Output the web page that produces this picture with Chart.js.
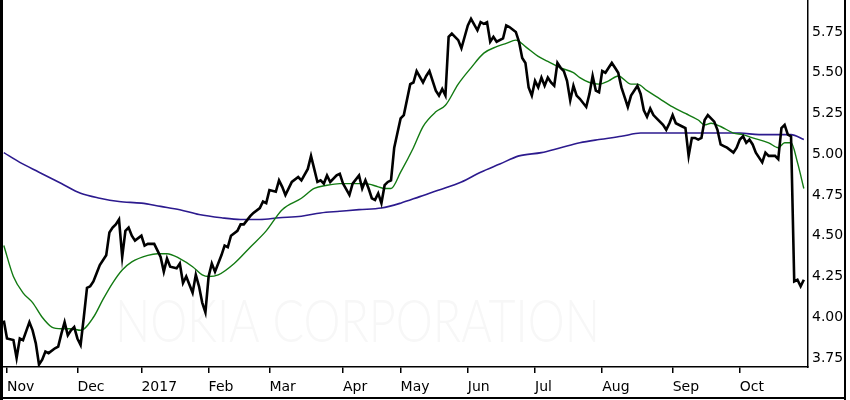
<!DOCTYPE html>
<html>
<head>
<meta charset="utf-8">
<script src="https://cdn.jsdelivr.net/npm/chart.js@4.4.1/dist/chart.umd.min.js"></script>
<style>
  html, body { margin: 0; padding: 0; background: #fff; }
  #wrap { width: 850px; height: 400px; }
</style>
</head>
<body>
<div id="wrap"><canvas id="myChart" width="850" height="400"></canvas></div>
<script>
//-----------------------------------
// Data (x = trading day, 0 = 1 Nov 2016)
//-----------------------------------
var priceDays = [-1, 0, 2, 3, 4, 5, 7, 8, 9, 10, 11, 12, 13, 15, 16, 17, 18, 19, 20, 21, 22, 23, 24, 25, 26, 27, 28, 29, 31, 32, 33, 34, 35, 36, 37, 38, 39, 40, 42, 43, 44, 46, 47, 48, 49, 50, 51, 53, 54, 55, 56, 58, 59, 60, 61, 62, 63, 64, 65, 67, 68, 69, 70, 72, 73, 74, 76, 77, 79, 80, 81, 82, 84, 85, 86, 87, 89, 91, 92, 94, 95, 96, 97, 98, 99, 100, 101, 103, 104, 105, 107, 108, 110, 111, 112, 113, 114, 115, 116, 117, 118, 119, 120, 121, 122, 123, 124, 126, 127, 128, 130, 131, 132, 134, 135, 136, 137, 138, 139, 141, 142, 144, 145, 147, 148, 149, 150, 151, 152, 153, 155, 156, 157, 159, 160, 161, 162, 163, 164, 165, 166, 167, 168, 169, 170, 171, 172, 173, 174, 175, 176, 177, 178, 179, 181, 182, 183, 184, 185, 186, 187, 188, 189, 190, 191, 192, 193, 194, 195, 197, 198, 199, 200, 201, 202, 203, 205, 206, 207, 208, 209, 211, 212, 213, 214, 215, 216, 217, 218, 219, 221, 222, 223, 224, 225, 227, 228, 229, 230, 231, 232, 233, 234, 236, 237, 238, 239, 240, 241, 242, 243, 244, 245, 246, 247, 248, 249];
var priceValues = [3.98, 3.87, 3.86, 3.75, 3.87, 3.86, 3.97, 3.92, 3.84, 3.71, 3.74, 3.79, 3.78, 3.81, 3.82, 3.90, 3.97, 3.89, 3.92, 3.94, 3.87, 3.83, 4.00, 4.18, 4.19, 4.22, 4.27, 4.32, 4.38, 4.52, 4.55, 4.57, 4.60, 4.37, 4.53, 4.55, 4.50, 4.47, 4.50, 4.44, 4.45, 4.45, 4.41, 4.37, 4.28, 4.36, 4.31, 4.30, 4.33, 4.21, 4.25, 4.15, 4.26, 4.19, 4.09, 4.03, 4.25, 4.33, 4.28, 4.38, 4.44, 4.43, 4.50, 4.53, 4.57, 4.57, 4.62, 4.64, 4.67, 4.71, 4.70, 4.78, 4.77, 4.84, 4.80, 4.75, 4.83, 4.86, 4.84, 4.91, 4.99, 4.91, 4.83, 4.84, 4.82, 4.87, 4.83, 4.87, 4.88, 4.82, 4.75, 4.82, 4.87, 4.79, 4.84, 4.79, 4.73, 4.72, 4.76, 4.70, 4.81, 4.83, 4.84, 5.04, 5.13, 5.22, 5.24, 5.43, 5.44, 5.51, 5.44, 5.48, 5.51, 5.39, 5.36, 5.40, 5.36, 5.72, 5.74, 5.70, 5.65, 5.79, 5.83, 5.76, 5.81, 5.80, 5.81, 5.69, 5.72, 5.69, 5.71, 5.79, 5.78, 5.75, 5.69, 5.59, 5.56, 5.41, 5.36, 5.45, 5.41, 5.47, 5.42, 5.47, 5.44, 5.42, 5.56, 5.53, 5.51, 5.45, 5.33, 5.42, 5.36, 5.34, 5.29, 5.37, 5.48, 5.39, 5.38, 5.51, 5.50, 5.53, 5.56, 5.53, 5.50, 5.41, 5.35, 5.29, 5.36, 5.42, 5.37, 5.27, 5.23, 5.28, 5.24, 5.22, 5.18, 5.15, 5.19, 5.24, 5.19, 5.17, 5.16, 4.99, 5.10, 5.10, 5.09, 5.10, 5.21, 5.24, 5.20, 5.15, 5.06, 5.05, 5.04, 5.01, 5.04, 5.09, 5.11, 5.07, 5.09, 5.06, 5.01, 4.95, 5.01, 4.99, 4.99, 4.99, 4.97, 5.16, 5.18, 5.12, 5.11, 4.22, 4.23, 4.19, 4.23];

var ma20Days = [-1, 2, 5, 8, 11, 14, 17, 20, 23, 27, 30, 33, 36, 39, 44, 47, 50, 54, 58, 61, 63, 66, 71, 76, 81, 86, 92, 96, 100, 104, 108, 112, 116, 118, 120, 123, 127, 130, 134, 137, 141, 145, 149, 153, 156, 159, 162, 166, 169, 173, 177, 179, 182, 185, 188, 191, 195, 197, 200, 204, 208, 212, 216, 218, 220, 223, 227, 230, 233, 238, 241, 243, 245, 247, 249];
var ma20Values = [4.44, 4.25, 4.15, 4.09, 4.00, 3.94, 3.93, 3.93, 3.92, 4.00, 4.11, 4.21, 4.29, 4.34, 4.38, 4.39, 4.39, 4.36, 4.31, 4.26, 4.25, 4.26, 4.33, 4.43, 4.53, 4.66, 4.73, 4.79, 4.81, 4.82, 4.82, 4.82, 4.80, 4.79, 4.79, 4.89, 5.04, 5.17, 5.26, 5.30, 5.43, 5.53, 5.62, 5.66, 5.68, 5.70, 5.66, 5.60, 5.57, 5.53, 5.50, 5.47, 5.44, 5.43, 5.45, 5.48, 5.43, 5.43, 5.39, 5.34, 5.29, 5.25, 5.21, 5.18, 5.19, 5.17, 5.13, 5.12, 5.10, 5.07, 5.04, 5.07, 5.07, 4.95, 4.79];

var ma200Days = [-1, 4, 10, 17, 23, 29, 35, 42, 48, 54, 60, 67, 73, 79, 85, 92, 98, 104, 110, 117, 123, 129, 135, 142, 148, 154, 160, 167, 173, 179, 185, 192, 198, 204, 210, 217, 223, 229, 235, 241, 245, 249];
var ma200Values = [5.01, 4.95, 4.89, 4.82, 4.76, 4.73, 4.71, 4.70, 4.68, 4.66, 4.63, 4.61, 4.60, 4.60, 4.61, 4.62, 4.64, 4.65, 4.66, 4.67, 4.70, 4.74, 4.78, 4.83, 4.89, 4.94, 4.99, 5.01, 5.04, 5.07, 5.09, 5.11, 5.13, 5.13, 5.13, 5.13, 5.13, 5.13, 5.12, 5.12, 5.12, 5.09];

var monthTickDays = [0, 22, 42, 63, 82, 105, 123, 144, 165, 186, 208, 229];
var monthLabels = ["Nov", "Dec", "2017", "Feb", "Mar", "Apr", "May", "Jun", "Jul", "Aug", "Sep", "Oct"];
var priceTicks = [3.75, 4.00, 4.25, 4.50, 4.75, 5.00, 5.25, 5.50, 5.75];

function toPoints(xs, ys) {
  return xs.map(function (x, i) { return { x: x, y: ys[i] }; });
}

//---------------------------------------------------------
// Watermark + outer frame
//---------------------------------------------------------
var extras = {
  id: 'extras',
  beforeDatasetsDraw: function (chart) {
    var ctx = chart.ctx;
    var text = 'NOKIA CORPORATION';
    ctx.save();
    ctx.fillStyle = '#f7f7f7';
    ctx.font = '300 60px Lato, "Open Sans", sans-serif';
    ctx.textBaseline = 'alphabetic';
    ctx.textAlign = 'left';
    var w = ctx.measureText(text).width;
    ctx.translate(115, 342);
    ctx.scale(485 / w, 1); // squeeze to the width used in the original
    ctx.fillText(text, 0, 0);
    ctx.restore();
  },
  afterDraw: function (chart) {
    var ctx = chart.ctx;
    ctx.save();
    ctx.fillStyle = '#000';
    ctx.fillRect(0, 0, 3, 400);     // left
    ctx.fillRect(844, 0, 2, 400);   // right
    ctx.fillRect(0, 397, 846, 2);   // bottom
    ctx.restore();
  }
};

var data = {
  datasets: [{
    label: 'Price',
    data: toPoints(priceDays, priceValues),
    borderColor: '#000000',
    borderWidth: 2.6,
    pointRadius: 0,
    tension: 0
  }, {
    label: '20 day',
    data: toPoints(ma20Days, ma20Values),
    borderColor: '#127a12',
    borderWidth: 1.4,
    pointRadius: 0,
    cubicInterpolationMode: 'monotone'
  }, {
    label: '200 day',
    data: toPoints(ma200Days, ma200Values),
    borderColor: '#2c1a8e',
    borderWidth: 1.6,
    pointRadius: 0,
    cubicInterpolationMode: 'monotone'
  }]
};

var config = {
  type: 'line',
  data: data,
  options: {
    responsive: false,
    animation: false,
    events: [],
    layout: { padding: { left: 3, top: 0, right: 0, bottom: 0 } },
    plugins: {
      legend: { display: false },
      tooltip: { enabled: false }
    },
    scales: {
      x: {
        type: 'linear',
        min: -1.25,
        max: 250.3,
        afterBuildTicks: function (scale) {
          scale.ticks = monthTickDays.map(function (d) { return { value: d }; });
        },
        afterFit: function (scale) {
          scale.height = 33;
          scale.paddingLeft = 0;
          scale.paddingRight = 0;
        },
        border: { display: true, color: '#000', width: 1.5 },
        grid: { display: true, drawOnChartArea: false, color: '#000', lineWidth: 1.5, tickLength: 6 },
        ticks: {
          autoSkip: false,
          maxRotation: 0,
          align: 'start',
          padding: 6,
          color: '#000',
          font: { family: '"DejaVu Sans", sans-serif', size: 14 },
          callback: function (value, index) { return monthLabels[index]; }
        }
      },
      y: {
        position: 'right',
        min: 3.695,
        max: 5.946,
        afterBuildTicks: function (scale) {
          scale.ticks = priceTicks.map(function (v) { return { value: v }; });
        },
        afterFit: function (scale) {
          scale.width = 42;
          scale.paddingTop = 0;
          scale.paddingBottom = 0;
        },
        border: { display: true, color: '#000', width: 1.5 },
        grid: { display: false, drawTicks: false },
        ticks: {
          padding: 4,
          color: '#000',
          font: { family: '"DejaVu Sans", sans-serif', size: 14 },
          callback: function (value) { return value.toFixed(2); }
        }
      }
    }
  },
  plugins: [extras]
};

//launch the chart
var myChart = new Chart(document.getElementById('myChart'), config);
</script>
</body>
</html>
